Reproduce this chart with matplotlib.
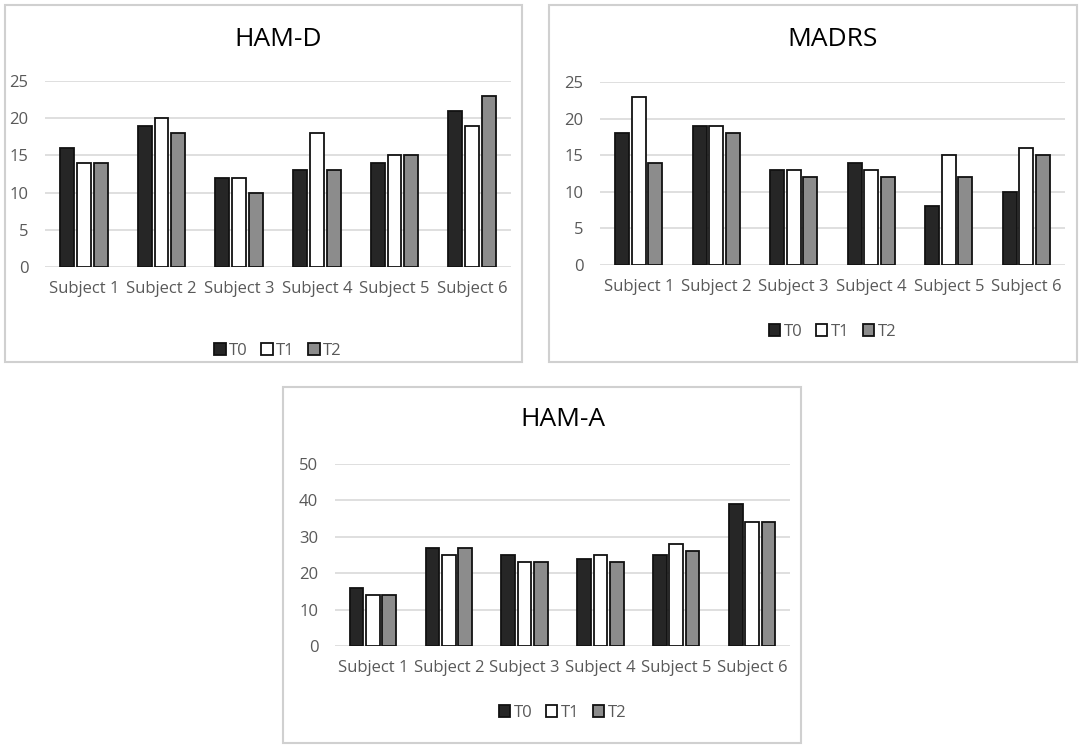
import matplotlib
matplotlib.use("Agg")
import matplotlib.pyplot as plt
from matplotlib.patches import Rectangle, Patch
import numpy as np

plt.rcParams['font.family'] = ['Open Sans', 'DejaVu Sans']

subjects = ["Subject 1", "Subject 2", "Subject 3", "Subject 4", "Subject 5", "Subject 6"]
series_names = ["T0", "T1", "T2"]

hamd_t0 = [16, 19, 12, 13, 14, 21]
hamd_t1 = [14, 20, 12, 18, 15, 19]
hamd_t2 = [14, 18, 10, 13, 15, 23]

madrs_t0 = [18, 19, 13, 14, 8, 10]
madrs_t1 = [23, 19, 13, 13, 15, 16]
madrs_t2 = [14, 18, 12, 12, 12, 15]

hama_t0 = [16, 27, 25, 24, 25, 39]
hama_t1 = [14, 25, 23, 25, 28, 34]
hama_t2 = [14, 27, 23, 23, 26, 34]

W, H = 1084, 748
fig = plt.figure(figsize=(W / 100, H / 100), dpi=100)
fig.patch.set_facecolor("white")

colors = ["#262626", "#ffffff", "#8c8c8c"]

def fx(x):
    return x / W

def fy(y):
    return 1 - y / H

def panel(box, plot, title, title_y, legend_y, data, ymax, ystep):
    bx0, by0, bx1, by1 = box
    fig.patches.append(Rectangle((fx(bx0), fy(by1)), fx(bx1 - bx0), (by1 - by0) / H,
                                 transform=fig.transFigure, facecolor="none",
                                 edgecolor="#d0d0d0", linewidth=1.5, zorder=-10))
    px0, py0, px1, py1 = plot
    ax = fig.add_axes([fx(px0), fy(py1), fx(px1 - px0), (py1 - py0) / H])
    ax.set_facecolor("none")
    x = np.arange(len(subjects))
    width = 0.18
    offsets = [-0.215, 0.0, 0.215]
    for vals, off, c, name in zip(data, offsets, colors, series_names):
        ax.bar(x + off, vals, width, color=c, edgecolor="#111111", linewidth=1.3,
               label=name, zorder=3)
    ax.set_xlim(-0.5, len(subjects) - 0.5)
    ax.set_ylim(0, ymax)
    ax.set_yticks(np.arange(0, ymax + 1, ystep))
    ax.set_xticks(x)
    ax.set_xticklabels(subjects)
    ax.yaxis.grid(True, color="#d9d9d9", linewidth=1.2, zorder=0)
    ax.set_axisbelow(True)
    for s in ax.spines.values():
        s.set_visible(False)
    ax.tick_params(axis="both", length=0, labelsize=12, labelcolor="#595959")
    ax.tick_params(axis="y", pad=12)
    ax.tick_params(axis="x", pad=10)
    fig.text(fx((px0 + px1) / 2), fy(title_y), title, ha="center", va="center",
             fontsize=19, color="#000000")
    handles = [Patch(facecolor=c, edgecolor="#111111", linewidth=1.3) for c in colors]
    fig.legend(handles, series_names, loc="center", bbox_to_anchor=(fx((px0 + px1) / 2), fy(legend_y)),
               ncol=3, frameon=False, fontsize=12, handlelength=0.7, handleheight=0.7,
               handletextpad=0.2, columnspacing=0.8, labelcolor="#595959")
    return ax

panel((5, 5, 522, 362), (45, 81, 511, 267), "HAM-D", 40, 351,
      [hamd_t0, hamd_t1, hamd_t2], 25, 5)
panel((549, 5, 1077, 362), (600, 82, 1065, 265), "MADRS", 40, 332,
      [madrs_t0, madrs_t1, madrs_t2], 25, 5)
panel((283, 387, 801, 743), (335, 464, 790, 646), "HAM-A", 420, 713,
      [hama_t0, hama_t1, hama_t2], 50, 10)

fig.savefig("out.png", dpi=100, facecolor="white")
